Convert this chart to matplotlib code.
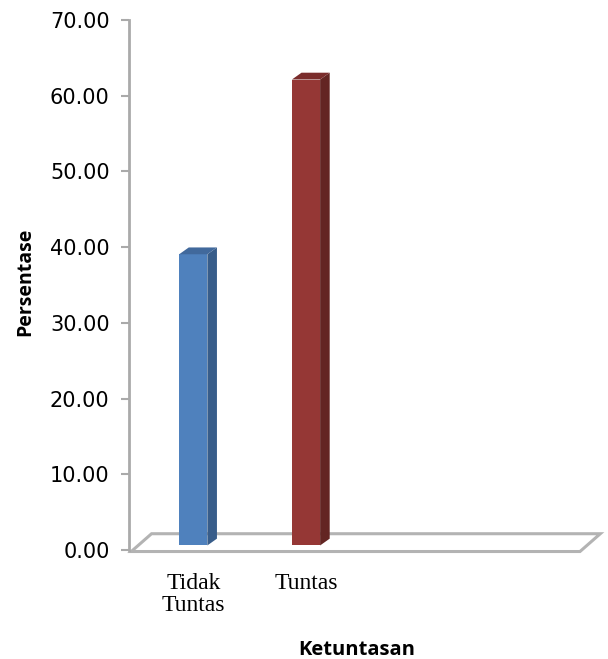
import matplotlib.pyplot as plt
from matplotlib.patches import Polygon

categories = ['Tidak\nTuntas', 'Tuntas']
values = [38.46, 61.54]
front_colors = ['#4f81bd', '#953735']
side_colors = ['#385d8a', '#632523']
top_colors = ['#41699c', '#7a2c2b']
yticks = [0, 10, 20, 30, 40, 50, 60, 70]

fig = plt.figure(figsize=(6.08, 6.59), dpi=100)
ax = fig.add_axes([129 / 608, 109 / 659, 451 / 608, 530 / 659])
ax.set_xlim(0, 4)
ax.set_ylim(0, 70)

# pseudo 3d offsets (axis units)
bar_w = 0.25
bdx, bdy = 0.085, 0.9
fdx, fdy = 0.18, 2.35
base = 0.6

# floor
floor = Polygon([(0.02, -0.2), (4.0, -0.2), (4.0 + fdx, -0.2 + fdy), (0.02 + fdx, -0.2 + fdy)],
                closed=True, facecolor='white', edgecolor='#b3b3b3', lw=2.2, clip_on=False, zorder=1)
ax.add_patch(floor)

for i, (v, fc, sc, tc) in enumerate(zip(values, front_colors, side_colors, top_colors)):
    x0 = i + 0.57 - bar_w / 2
    x1 = x0 + bar_w
    top = base + v
    ax.add_patch(Polygon([(x0, base), (x1, base), (x1, top), (x0, top)], closed=True,
                         facecolor=fc, edgecolor='none', clip_on=False, zorder=3))
    ax.add_patch(Polygon([(x1, base), (x1 + bdx, base + bdy), (x1 + bdx, top + bdy), (x1, top)], closed=True,
                         facecolor=sc, edgecolor='none', clip_on=False, zorder=3))
    ax.add_patch(Polygon([(x0, top), (x1, top), (x1 + bdx, top + bdy), (x0 + bdx, top + bdy)], closed=True,
                         facecolor=tc, edgecolor='none', clip_on=False, zorder=3))
    ax.text(i + 0.57, -3.0, categories[i], ha='center', va='top', fontsize=17,
            family='Liberation Serif', linespacing=1.1)

for s in ['top', 'right', 'bottom']:
    ax.spines[s].set_visible(False)
ax.spines['left'].set_color('#aaaaaa')
ax.spines['left'].set_linewidth(2)
ax.set_xticks([])
ax.set_yticks(yticks)
ax.set_yticklabels(['%.2f' % t for t in yticks], fontsize=15, family='DejaVu Sans')
ax.tick_params(axis='y', length=6, width=1.5, color='#aaaaaa', pad=8)

fig.text(25 / 608, 1 - 282 / 659, 'Persentase', rotation=90, ha='center', va='center',
         fontsize=14, fontweight='bold', family='Open Sans')
fig.text(357 / 608, 1 - 650 / 659, 'Ketuntasan', ha='center', va='center',
         fontsize=14.5, fontweight='bold', family='Open Sans')

fig.savefig('out.png', dpi=100)
